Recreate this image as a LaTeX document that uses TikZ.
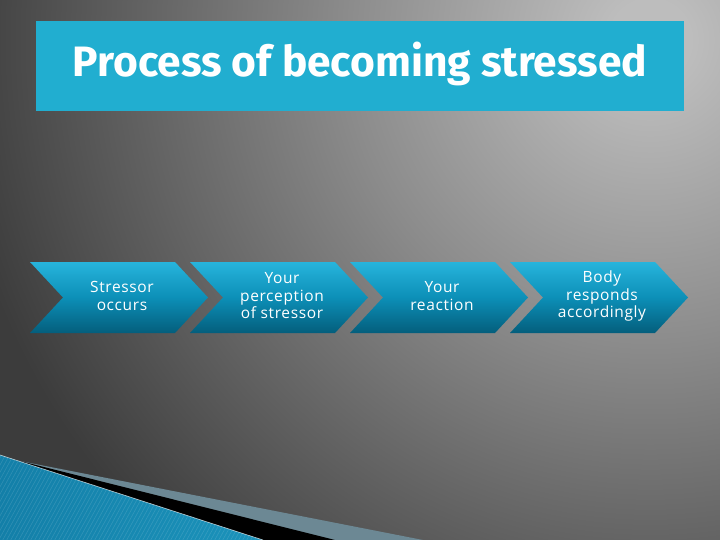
\documentclass[tikz,border=0pt]{standalone}
\usepackage{fontspec}
\setmainfont{Open Sans}
\newfontfamily\titlefont{Fira Sans}
\definecolor{bglight}{HTML}{BDBDBD}
\definecolor{bgmid}{HTML}{8C8C8C}
\definecolor{bgdark}{HTML}{3C3C3C}
\pgfdeclareradialshading{bgshade}{\pgfpoint{0bp}{0bp}}{%
  color(0bp)=(bglight);
  color(40bp)=(bglight);
  color(300bp)=(bgmid);
  color(700bp)=(bgdark);
  color(800bp)=(bgdark)}
\definecolor{titlecyan}{HTML}{21AED0}
\definecolor{chevtop}{HTML}{27B4DC}
\definecolor{chevmid}{HTML}{0C8FB7}
\definecolor{chevbot}{HTML}{045E7C}
\definecolor{swgray}{HTML}{6C8894}
\definecolor{swblueA}{HTML}{137FA8}
\definecolor{swblueB}{HTML}{52BADE}
\definecolor{swblueC}{HTML}{1B93BB}
\tikzset{
  chev/.style={top color=chevtop, bottom color=chevbot, middle color=chevmid},
  chevtext/.style={text=white, align=center, font=\fontsize{15.5}{17.5}\selectfont\addfontfeature{LetterSpace=4}, inner sep=0pt},
  titletext/.style={font=\titlefont\bfseries\fontsize{42.5}{44}\selectfont, inner sep=0pt, anchor=base}
}
\begin{document}
\begin{tikzpicture}[x=1pt,y=-1pt]
\useasboundingbox (0,0) rectangle (720,540);
% background
\begin{scope}
  \clip (0,0) rectangle (720,540);
  \node[inner sep=0pt, outer sep=0pt] (bg) at (650,40) {\pgfuseshading{bgshade}};
\end{scope}
% title
\node[fill=titlecyan, minimum width=648pt, minimum height=90pt, inner sep=0pt] (titlebox) at (360,66) {};
\node[titletext, text=white] (ttext) at (360,77) {Process of becoming stressed};
% chevrons
\foreach \x/\nm/\txt in {30/c1/{Stressor\\occurs}, 190/c2/{Your\\perception\\of stressor}, 350/c3/{Your\\reaction}, 510/c4/{Body\\responds\\accordingly}}{
  \shade[chev] (\x,262) -- (\x+145,262) -- (\x+178,297.5) -- (\x+145,333) -- (\x,333) -- (\x+33,297.5) -- cycle;
  \node[chevtext] (\nm) at (\x+92,296) {\txt};
}
% bottom-left swoosh
\fill[swgray] (20,461) -- (423,540) -- (20,540) -- cycle;
\fill[black] (20,461) -- (335,540) -- (20,540) -- cycle;
\shade[left color=swblueA, middle color=swblueB, right color=swblueC] (0,455) -- (263,540) -- (0,540) -- cycle;
\begin{scope}
  \clip (0,455) -- (263,540) -- (0,540) -- cycle;
  \foreach \i in {-60,-56,...,270}{
    \draw[white, opacity=0.12, line width=0.6pt] (\i,545) -- (\i+55,445);
  }
\end{scope}
\draw[white, opacity=0.7, line width=0.6pt] (0,455) -- (263,540);
\end{tikzpicture}
\end{document}
